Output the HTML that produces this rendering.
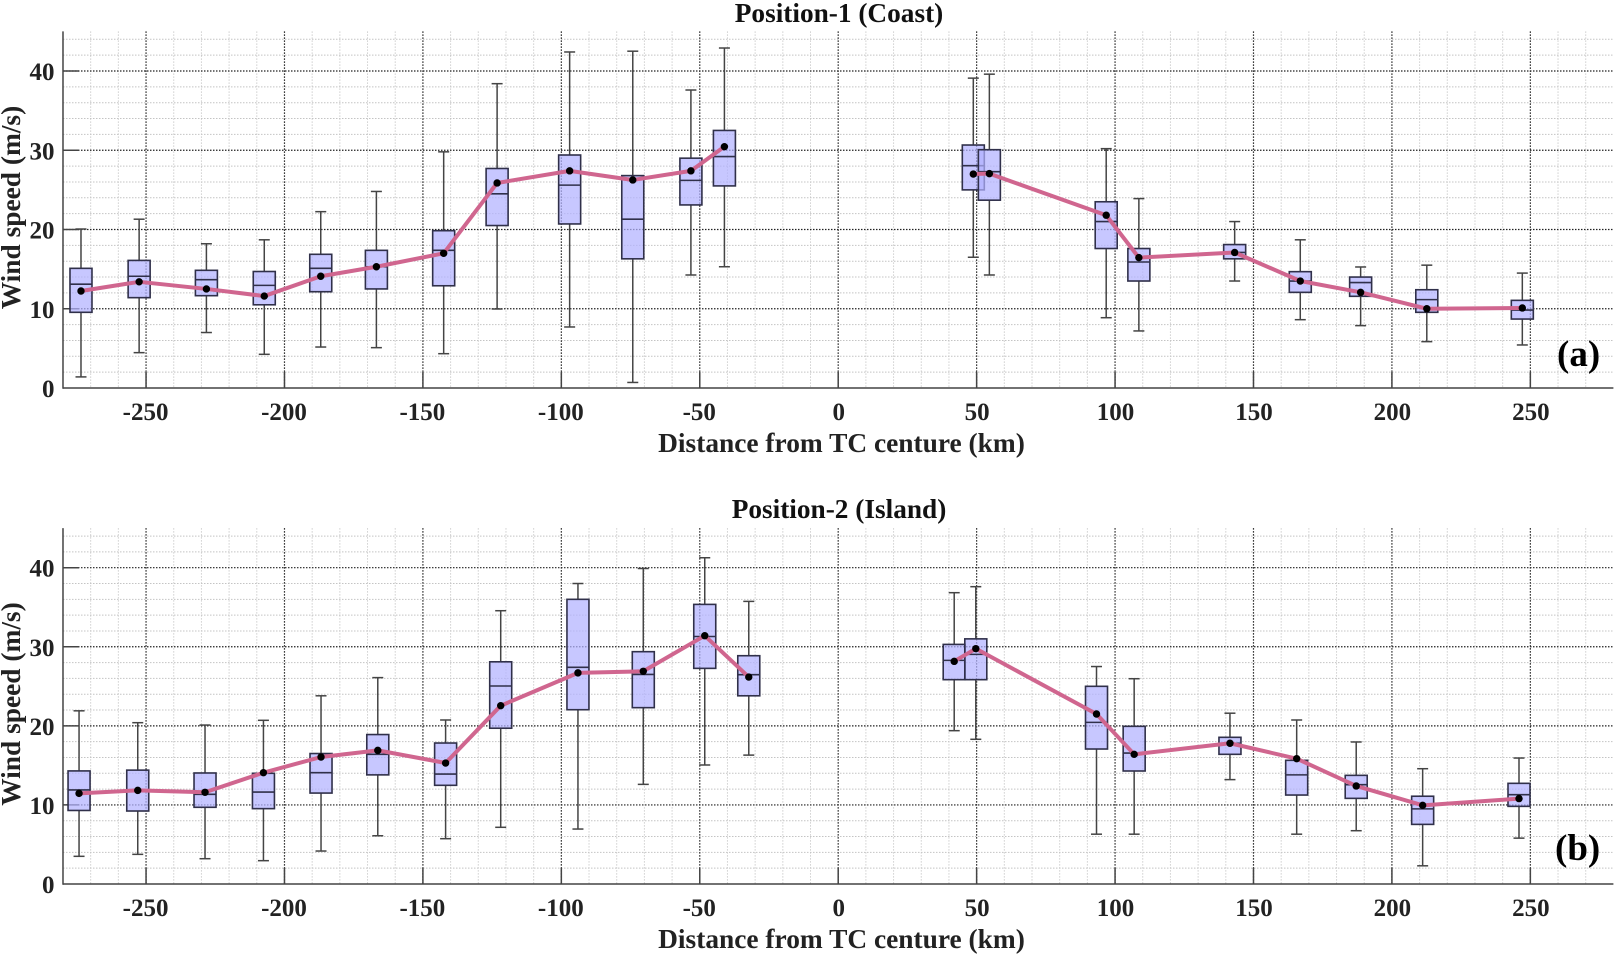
<!DOCTYPE html>
<html lang="en">
<head>
<meta charset="utf-8">
<title>Wind speed vs distance from TC centure</title>
<style>
html,body{margin:0;padding:0;background:#fff;}
svg{display:block;}
text{font-family:"Liberation Serif",serif;font-weight:bold;fill:#222;}
.tick{font-size:25px;}
.title{font-size:27.3px;fill:#111;}
.axis-title{font-size:27.4px;}
.panel-letter{font-size:37px;fill:#000;}
</style>
</head>
<body>
<svg id="chart" xmlns="http://www.w3.org/2000/svg" width="1618" height="957" viewBox="0 0 1618 957">
  <g id="panel-a"></g>
  <g id="panel-b"></g>
  <text class="title" x="839" y="22" text-anchor="middle">Position-1 (Coast)</text>
  <text class="axis-title" x="841.5" y="452" text-anchor="middle">Distance from TC centure (km)</text>
  <text class="axis-title" transform="translate(20,207.5) rotate(-90)" text-anchor="middle">Wind speed (m/s)</text>
  <text class="panel-letter" x="1557" y="366">(a)</text>
  <text class="title" x="839" y="518" text-anchor="middle">Position-2 (Island)</text>
  <text class="axis-title" x="841.5" y="948" text-anchor="middle">Distance from TC centure (km)</text>
  <text class="axis-title" transform="translate(20,704) rotate(-90)" text-anchor="middle">Wind speed (m/s)</text>
  <text class="panel-letter" x="1555" y="860">(b)</text>
</svg>
<script>
var xTicks = [-250, -200, -150, -100, -50, 0, 50, 100, 150, 200, 250];
var yTicks = [0, 10, 20, 30, 40];
var xMinorTicks = [-270, -260, -240, -230, -220, -210, -190, -180, -170, -160, -140, -130, -120, -110, -90, -80, -70, -60, -40, -30, -20, -10, 10, 20, 30, 40, 60, 70, 80, 90, 110, 120, 130, 140, 160, 170, 180, 190, 210, 220, 230, 240, 260, 270];
var yMinorTicks = [2, 4, 6, 8, 12, 14, 16, 18, 22, 24, 26, 28, 32, 34, 36, 38, 42, 44];

var coastDistance = [-273.5, -252.5, -228.2, -207.3, -186.9, -166.8, -142.5, -123.2, -97, -74.2, -53.2, -41.1, 48.8, 54.6, 96.8, 108.6, 143.2, 166.9, 188.7, 212.6, 247.1];
var coastLow = [1.4, 4.46, 7.0, 4.25, 5.17, 5.09, 4.33, 9.97, 7.7, 0.7, 14.26, 15.3, 16.5, 14.26, 8.87, 7.2, 13.5, 8.62, 7.87, 5.85, 5.43];
var coastQ1 = [9.55, 11.4, 11.65, 10.5, 12.15, 12.5, 12.9, 20.5, 20.7, 16.3, 23.1, 25.5, 25, 23.7, 17.6, 13.5, 16.3, 12.07, 11.57, 9.55, 8.7];
var coastMedian = [13.1, 14.1, 13.67, 12.95, 15.1, 15.3, 17.37, 24.5, 25.6, 21.3, 26.2, 29.2, 28.05, 27.3, 21, 15.9, 17.1, 13.5, 13.3, 11.15, 9.84];
var coastQ3 = [15.1, 16.1, 14.85, 14.7, 16.87, 17.37, 19.85, 27.7, 29.4, 26.8, 29, 32.5, 30.66, 30.07, 23.5, 17.6, 18.1, 14.68, 14.0, 12.4, 11.06];
var coastHigh = [20.06, 21.3, 18.2, 18.7, 22.25, 24.8, 29.8, 38.4, 42.4, 42.5, 37.6, 42.9, 39.1, 39.6, 30.2, 23.9, 21, 18.7, 15.27, 15.5, 14.5];
var coastMean = [12.24, 13.4, 12.5, 11.6, 14.1, 15.3, 17.0, 25.87, 27.4, 26.25, 27.4, 30.45, 27.0, 27.05, 21.8, 16.45, 17.1, 13.5, 12.07, 10.0, 10.1];

var islandDistance = [-274.2, -253, -228.7, -207.6, -186.8, -166.3, -141.8, -121.9, -94, -70.4, -48.2, -32.3, 41.9, 49.7, 93.3, 106.9, 141.5, 165.6, 187.1, 211.1, 245.9];
var islandLow = [3.5, 3.75, 3.2, 2.95, 4.17, 6.1, 5.73, 7.17, 6.95, 12.6, 15.05, 16.3, 19.39, 18.3, 6.3, 6.3, 13.2, 6.3, 6.74, 2.3, 5.8];
var islandQ1 = [9.3, 9.23, 9.7, 9.53, 11.5, 13.8, 12.48, 19.7, 22.04, 22.3, 27.27, 23.8, 25.84, 25.84, 17.07, 14.29, 16.4, 11.25, 10.83, 7.54, 9.82];
var islandMedian = [11.9, 11.9, 11.34, 11.63, 14.08, 16.4, 13.9, 25.04, 27.4, 26.5, 31.3, 26.47, 28.28, 29.04, 20.44, 16.56, 17.8, 13.8, 12.56, 9.5, 11.3];
var islandQ3 = [14.3, 14.4, 14.04, 14, 16.5, 18.9, 17.83, 28.1, 36, 29.38, 35.36, 28.87, 30.3, 31, 25, 19.94, 18.55, 15.64, 13.74, 11.1, 12.73];
var islandHigh = [21.9, 20.4, 20.1, 20.7, 23.8, 26.1, 20.74, 34.56, 38, 39.9, 41.26, 35.74, 36.84, 37.6, 27.5, 25.96, 21.6, 20.74, 17.96, 14.58, 15.93];
var islandMean = [11.46, 11.84, 11.6, 14.08, 16.06, 16.9, 15.3, 22.55, 26.7, 26.9, 31.4, 26.17, 28.16, 29.76, 21.5, 16.4, 17.8, 15.85, 12.4, 9.95, 10.8];

var SVG_NS = 'http://www.w3.org/2000/svg';

function create(parent, tag, attrs) {
  var el = document.createElementNS(SVG_NS, tag);
  for (var k in attrs) el.setAttribute(k, attrs[k]);
  parent.appendChild(el);
  return el;
}

function drawPanel(groupId, yZero, yForty, series) {
  var group = document.getElementById(groupId);
  var xAxis = function (km) { return 838.2 + km * 2.7686; };
  var yAxis = function (v) { return yZero + (yForty - yZero) * v / 40; };
  var left = xAxis(-280), right = xAxis(280), top = yAxis(45), bottom = yAxis(0);
  var el, i;

  xMinorTicks.forEach(function (t) {
    el = create(group, 'line', {x1: xAxis(t), x2: xAxis(t), y1: top, y2: bottom, stroke: '#cfcfcf', 'stroke-width': 1, 'stroke-dasharray': '1.5 1.5'});
    
    
  });
  yMinorTicks.forEach(function (t) {
    el = create(group, 'line', {x1: left, x2: right, y1: yAxis(t), y2: yAxis(t), stroke: '#c4c4c4', 'stroke-width': 1, 'stroke-dasharray': '1.5 1.5'});
    
    
  });
  xTicks.forEach(function (t) {
    el = create(group, 'line', {x1: xAxis(t), x2: xAxis(t), y1: top, y2: bottom, stroke: '#222', 'stroke-width': 1.2, 'stroke-dasharray': '1.5 1.5'});
    
    
    el = create(group, 'line', {x1: xAxis(t), x2: xAxis(t), y1: bottom - 16, y2: bottom, stroke: '#444', 'stroke-width': 1.5});
    
    
    el = create(group, 'text', {class: 'tick', x: xAxis(t) + (t < 0 ? -0.5 : 0.5), y: bottom + 32, 'text-anchor': 'middle'});
    
    
    el.textContent = String(t);
  });
  yTicks.forEach(function (t) {
    if (t > 0) {
      el = create(group, 'line', {x1: left, x2: right, y1: yAxis(t), y2: yAxis(t), stroke: '#222', 'stroke-width': 1.2, 'stroke-dasharray': '1.5 1.5'});
      
      
      el = create(group, 'line', {x1: left, x2: left + 16, y1: yAxis(t), y2: yAxis(t), stroke: '#444', 'stroke-width': 1.5});
      
      
    }
    el = create(group, 'text', {class: 'tick', x: 54.5, y: yAxis(t) + 9, 'text-anchor': 'end'});
    
    
    el.textContent = String(t);
  });

  el = create(group, 'line', {x1: left, x2: left, y1: top, y2: bottom + 0.75, stroke: '#444', 'stroke-width': 1.5});
  
  
  el = create(group, 'line', {x1: left, x2: right, y1: bottom, y2: bottom, stroke: '#444', 'stroke-width': 1.5});
  
  

  var boxHalf = 11, capHalf = 5.5;
  for (i = 0; i < series.distance.length; i++) {
    var cx = xAxis(series.distance[i]);
    el = create(group, 'line', {x1: cx, x2: cx, y1: yAxis(series.high[i]), y2: yAxis(series.q3[i]), stroke: '#444', 'stroke-width': 1.5});
    
    
    el = create(group, 'line', {x1: cx, x2: cx, y1: yAxis(series.q1[i]), y2: yAxis(series.low[i]), stroke: '#444', 'stroke-width': 1.5});
    
    
    el = create(group, 'line', {x1: cx - capHalf, x2: cx + capHalf, y1: yAxis(series.high[i]), y2: yAxis(series.high[i]), stroke: '#444', 'stroke-width': 1.5});
    
    
    el = create(group, 'line', {x1: cx - capHalf, x2: cx + capHalf, y1: yAxis(series.low[i]), y2: yAxis(series.low[i]), stroke: '#444', 'stroke-width': 1.5});
    
    
    el = create(group, 'rect', {x: cx - boxHalf, y: yAxis(series.q3[i]), width: boxHalf * 2, height: yAxis(series.q1[i]) - yAxis(series.q3[i]), fill: 'rgba(178,178,255,0.72)', stroke: '#30304a', 'stroke-width': 1.6});
    
    
    el = create(group, 'line', {x1: cx - boxHalf, x2: cx + boxHalf, y1: yAxis(series.median[i]), y2: yAxis(series.median[i]), stroke: '#30304a', 'stroke-width': 1.6});
    
    
  }

  var pts = series.distance.map(function (d, j) { return xAxis(d) + ',' + yAxis(series.mean[j]); });
  el = create(group, 'polyline', {points: pts.slice(0, 12).join(' '), fill: 'none', stroke: '#d0668f', 'stroke-width': 4, 'stroke-linejoin': 'round'});
  
  
  el = create(group, 'polyline', {points: pts.slice(12).join(' '), fill: 'none', stroke: '#d0668f', 'stroke-width': 4, 'stroke-linejoin': 'round'});
  
  

  for (i = 0; i < series.distance.length; i++) {
    el = create(group, 'circle', {cx: xAxis(series.distance[i]), cy: yAxis(series.mean[i]), r: 3.7, fill: '#000'});
    
    
  }
}

drawPanel('panel-a', 388, 71, {distance: coastDistance, low: coastLow, q1: coastQ1, median: coastMedian, q3: coastQ3, high: coastHigh, mean: coastMean});
drawPanel('panel-b', 884, 567.7, {distance: islandDistance, low: islandLow, q1: islandQ1, median: islandMedian, q3: islandQ3, high: islandHigh, mean: islandMean});
</script>
</body>
</html>
